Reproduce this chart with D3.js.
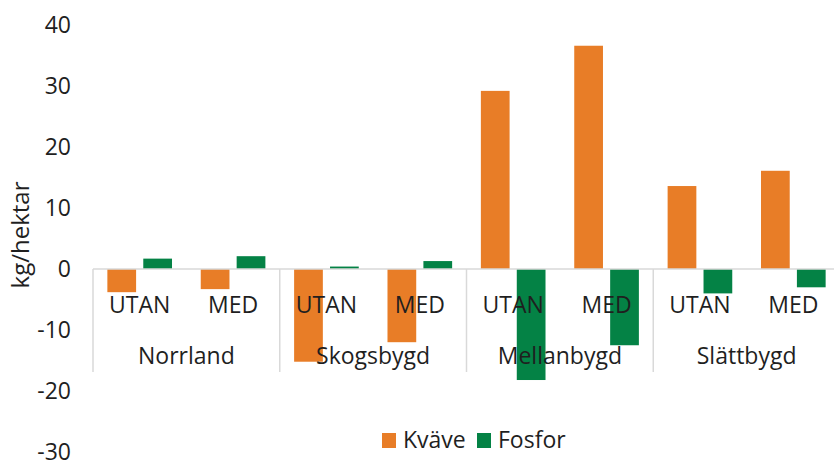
<!DOCTYPE html>
<html><head><meta charset="utf-8">
<script src="https://cdn.jsdelivr.net/npm/d3@7"></script>
<style>body{margin:0;background:#fff}svg{display:block}text{font-family:"Open Sans","Liberation Sans",sans-serif;fill:#1f1f1f}</style>
</head><body><svg id="c" width="834" height="462"></svg>
<script>
const regions = ["Norrland","Skogsbygd","Mellanbygd","Slättbygd"];
const treatments = ["UTAN","MED"];
const seriesNames = ["Kväve","Fosfor"];
const kvave = [-3.8,-3.3,-15.2,-12.0,29.2,36.6,13.6,16.1];
const fosfor = [1.7,2.1,0.4,1.3,-18.2,-12.5,-4.0,-3.0];
const yTicks = [40,30,20,10,0,-10,-20,-30];
const colors = ["#E87D27","#048245"];

const svg = d3.select("#c");
const y = d3.scaleLinear().domain([-30,40]).range([452,25]);
const left = 93, right = 840;
const slots = [];
regions.forEach(r=>treatments.forEach(t=>slots.push(r+"|"+t)));
const x0 = d3.scaleBand().domain(slots).range([left,right]).paddingInner(0).paddingOuter(0);
const x1 = d3.scaleBand().domain(seriesNames).range([0,x0.bandwidth()]).paddingInner(0.2).paddingOuter(0.4);
const xg = d3.scaleBand().domain(regions).range([left,right]);
const fs = "23px";

// y tick labels
svg.append("g").selectAll("text").data(yTicks).join("text")
  .attr("x",71).attr("y",d=>y(d)).attr("dy","0.36em")
  .attr("text-anchor","end").style("font-size",fs).text(d=>d);

// bars
const data = [];
slots.forEach((s,i)=>{data.push({s,k:"Kväve",v:kvave[i]});data.push({s,k:"Fosfor",v:fosfor[i]});});
svg.append("g").selectAll("rect").data(data).join("rect")
  .attr("x",d=>x0(d.s)+x1(d.k)).attr("width",x1.bandwidth())
  .attr("y",d=>y(Math.max(0,d.v))).attr("height",d=>Math.abs(y(d.v)-y(0)))
  .attr("fill",d=>colors[seriesNames.indexOf(d.k)]);

// axis line and separators
svg.append("line").attr("x1",left).attr("x2",right).attr("y1",y(0)).attr("y2",y(0)).attr("stroke","#D9D9D9").attr("stroke-width",1.5);
svg.append("g").selectAll("line").data(regions).join("line")
  .attr("x1",d=>xg(d)).attr("x2",d=>xg(d)).attr("y1",y(0)).attr("y2",372)
  .attr("stroke","#D9D9D9").attr("stroke-width",1.5);

// sub labels
svg.append("g").selectAll("text").data(slots).join("text")
  .attr("x",d=>x0(d)+x0.bandwidth()/2).attr("y",313).attr("text-anchor","middle")
  .style("font-size",fs).text(d=>d.split("|")[1]);
svg.append("g").selectAll("text").data(regions).join("text")
  .attr("x",d=>xg(d)+xg.bandwidth()/2).attr("y",364).attr("text-anchor","middle")
  .style("font-size",fs).text(d=>d);

// y title
svg.append("text").attr("transform","translate(29,235) rotate(-90)").attr("text-anchor","middle")
  .style("font-size","24px").text("kg/hektar");

// legend
const lg = svg.append("g");
const lx = [382,477];
seriesNames.forEach((n,i)=>{
  lg.append("rect").attr("x",lx[i]).attr("y",433).attr("width",14).attr("height",15).attr("fill",colors[i]);
  lg.append("text").attr("x",lx[i]+21).attr("y",448).style("font-size",fs).text(n);
});
</script></body></html>
